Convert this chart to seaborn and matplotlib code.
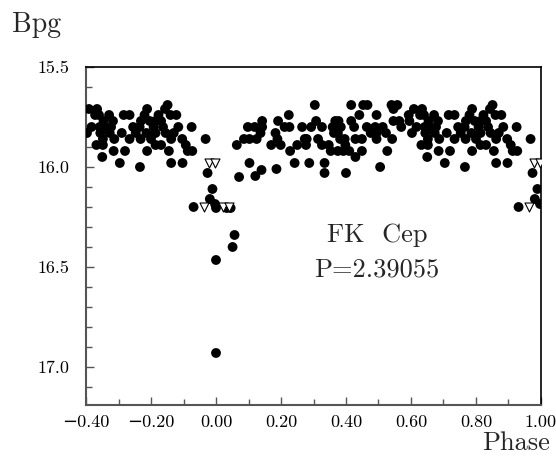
import pandas as pd
import seaborn as sns
import matplotlib.pyplot as plt
from matplotlib.ticker import MultipleLocator, FuncFormatter

# FK Cep light curve, phase folded to 0..1 (points with phase >= 0.6 are repeated at phase-1)
row_mags = [15.69, 15.71, 15.74, 15.77, 15.80, 15.83, 15.86, 15.89, 15.92, 15.95, 15.98, 16.00]
row_phases = [
    [0.304, 0.416, 0.453, 0.466, 0.540, 0.558, 0.851],
    [0.546, 0.609, 0.634, 0.788, 0.843],
    [0.224, 0.441, 0.494, 0.593, 0.628, 0.640, 0.671, 0.716, 0.734, 0.780, 0.823, 0.860, 0.878],
    [0.142, 0.191, 0.308, 0.367, 0.377, 0.416, 0.546, 0.564, 0.595, 0.654, 0.683, 0.769, 0.796,
     0.814, 0.831],
    [0.098, 0.119, 0.142, 0.211, 0.226, 0.265, 0.293, 0.326, 0.359, 0.384, 0.425, 0.464, 0.490,
     0.513, 0.570, 0.617, 0.642, 0.656, 0.677, 0.745, 0.765, 0.808, 0.837, 0.884, 0.925],
    [0.137, 0.183, 0.363, 0.375, 0.476, 0.494, 0.523, 0.603, 0.644, 0.673, 0.710, 0.753, 0.786,
     0.814, 0.845, 0.870],
    [0.086, 0.103, 0.125, 0.189, 0.273, 0.279, 0.314, 0.382, 0.396, 0.429, 0.449, 0.494, 0.542,
     0.652, 0.687, 0.734, 0.768, 0.800, 0.862, 0.896, 0.968],
    [0.064, 0.170, 0.199, 0.250, 0.277, 0.326, 0.347, 0.398, 0.632, 0.652, 0.814, 0.831, 0.907],
    [0.228, 0.353, 0.375, 0.392, 0.410, 0.449, 0.527, 0.685, 0.720, 0.788, 0.855, 0.913, 0.927],
    [0.429, 0.650],
    [0.103, 0.242, 0.287, 0.334, 0.704, 0.862, 0.897],
    [0.505, 0.766],
]

# fainter points (eclipse and its edges)
extra_phase = [0.186, 0.140, 0.334, 0.400, 0.974, 0.121, 0.071, 0.989, 0.981, 0.997,
               0.000, 0.033, 0.045, 0.931, 0.057, 0.051, 0.000, 0.000]
extra_mag = [16.01, 16.015, 16.03, 16.03, 16.03, 16.045, 16.05, 16.11, 16.16, 16.185,
             16.205, 16.205, 16.205, 16.20, 16.34, 16.40, 16.465, 16.93]

# upper limits (open triangles)
lim_phase = [0.021, 0.040, 0.964, 0.978, 0.996]
lim_mag = [16.20, 16.20, 16.20, 15.98, 15.98]

phase = [p for ps in row_phases for p in ps] + extra_phase
mag = [m for m, ps in zip(row_mags, row_phases) for _ in ps] + extra_mag
det = pd.DataFrame({"phase": phase, "mag": mag})
lim = pd.DataFrame({"phase": lim_phase, "mag": lim_mag})


def wrap(df):
    back = df[df["phase"] >= 0.6].copy()
    back["phase"] = back["phase"] - 1.0
    return pd.concat([df, back], ignore_index=True)


det = wrap(det)
lim = wrap(lim)

sns.set_style("white")
plt.rcParams["font.family"] = ["cmr10", "DejaVu Serif"]

fig = plt.figure(figsize=(5.56, 4.62), dpi=100)
ax = fig.add_axes([0.1547, 0.1234, 0.8183, 0.7316])

sns.scatterplot(data=det, x="phase", y="mag", ax=ax, color="black", s=50,
                edgecolor="none", zorder=3)
sns.scatterplot(data=lim, x="phase", y="mag", ax=ax, marker="v", color="white",
                edgecolor="black", linewidth=0.8, s=42, zorder=4)

ax.set_xlim(-0.40, 1.00)
ax.set_ylim(17.19, 15.5)
ax.set_xlabel("")
ax.set_ylabel("")

ax.xaxis.set_major_locator(MultipleLocator(0.2))
ax.xaxis.set_minor_locator(MultipleLocator(0.1))
ax.xaxis.set_major_formatter(FuncFormatter(lambda v, p: f"{v:.2f}".replace("-", "\u2212")))
ax.yaxis.set_major_locator(MultipleLocator(0.5))
ax.yaxis.set_minor_locator(MultipleLocator(0.1))
ax.yaxis.set_major_formatter(FuncFormatter(lambda v, p: f"{v:.1f}"))

ax.tick_params(axis="both", which="both", direction="in", bottom=True, left=True,
               top=False, right=False, colors="#555555", labelcolor="black", width=1)
ax.tick_params(axis="both", which="major", length=6, labelsize=13)
ax.tick_params(axis="both", which="minor", length=4.5)
ax.tick_params(axis="y", which="major", pad=12)
ax.tick_params(axis="x", which="major", pad=7)

for side in ["top", "right"]:
    ax.spines[side].set_color("black")
    ax.spines[side].set_linewidth(1.2)
for side in ["left", "bottom"]:
    ax.spines[side].set_color("#555555")
    ax.spines[side].set_linewidth(1.5)

ax.text(0.495, 16.34, "FK  Cep", fontsize=19, ha="center", va="center")
ax.text(0.495, 16.515, "P=2.39055", fontsize=19, ha="center", va="center")

fig.text(0.022, 0.931, "Bpg", fontsize=20, ha="left", va="baseline")
fig.text(0.989, 0.026, "Phase", fontsize=19, ha="right", va="baseline")

fig.savefig("out.png", dpi=100)
